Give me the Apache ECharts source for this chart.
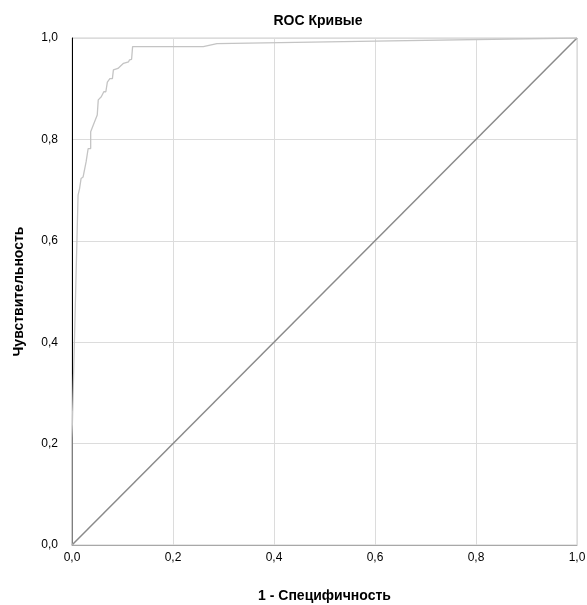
<!DOCTYPE html>
<html>
<head>
<meta charset="utf-8">
<script src="https://cdn.jsdelivr.net/npm/echarts@6/dist/echarts.min.js"></script>
<style>html,body{margin:0;padding:0;background:#fff}#c{width:587px;height:605px}</style>
</head>
<body>
<div id="c"></div>
<script>
const titleText = 'ROC Кривые';
const xName = '1 - Специфичность';
const yName = 'Чувствительность';
const tickValues = [0, 0.2, 0.4, 0.6, 0.8, 1.0];
const rocX = [0, 0, 0.012, 0.015, 0.018, 0.022, 0.028, 0.032, 0.037, 0.037, 0.042, 0.05, 0.052, 0.058, 0.063, 0.067, 0.07, 0.075, 0.08, 0.082, 0.091, 0.102, 0.112, 0.114, 0.118, 0.12, 0.12, 0.26, 0.287, 0.6, 1.0];
const rocY = [0, 0.21, 0.69, 0.703, 0.723, 0.726, 0.756, 0.782, 0.782, 0.815, 0.828, 0.848, 0.878, 0.884, 0.894, 0.894, 0.913, 0.92, 0.92, 0.937, 0.94, 0.95, 0.953, 0.957, 0.958, 0.958, 0.983, 0.983, 0.989, 0.994, 1.0];
const refX = [0, 1];
const refY = [0, 1];

const fmt = v => v.toFixed(1).replace('.', ',');
const chart = echarts.init(document.getElementById('c'), null, {renderer: 'canvas'});
const font = 'Liberation Sans, Arial, sans-serif';
chart.setOption({
  animation: false,
  backgroundColor: '#fff',
  title: {
    text: titleText, left: 313, top: 9, textAlign: 'center',
    textStyle: {fontFamily: font, fontSize: 14, fontWeight: 'bold', color: '#000'}
  },
  grid: {left: 72, right: 10, top: 38, bottom: 60, show: true, borderColor: '#cfcfcf', borderWidth: 1,
         containLabel: false, outerBoundsMode: 'none'},
  xAxis: {
    type: 'value', min: 0, max: 1, interval: 0.2,
    name: xName, nameLocation: 'middle', nameGap: 44,
    nameTextStyle: {fontFamily: font, fontSize: 14, fontWeight: 'bold', color: '#000'},
    axisLine: {show: true, lineStyle: {color: '#a8a8a8', width: 1}},
    axisTick: {show: false},
    axisLabel: {formatter: fmt, fontFamily: font, fontSize: 12, color: '#000', margin: 7},
    splitLine: {show: true, lineStyle: {color: '#dcdcdc', width: 1}}
  },
  yAxis: {
    type: 'value', min: 0, max: 1, interval: 0.2,
    name: yName, nameLocation: 'middle', nameGap: 46,
    nameTextStyle: {fontFamily: font, fontSize: 14, fontWeight: 'bold', color: '#000'},
    axisLine: {show: true, lineStyle: {color: '#000', width: 1}},
    axisTick: {show: false},
    axisLabel: {formatter: fmt, fontFamily: font, fontSize: 12, color: '#000', margin: 14},
    splitLine: {show: true, lineStyle: {color: '#dcdcdc', width: 1}}
  },
  series: [
    {
      type: 'line', data: refX.map((x, i) => [x, refY[i]]), symbol: 'none',
      lineStyle: {color: '#8a8a8a', width: 1.5}, z: 3
    },
    {
      type: 'line', data: rocX.map((x, i) => [x, rocY[i]]), symbol: 'none',
      lineStyle: {color: '#c4c4c4', width: 1.3}, z: 4
    }
  ]
});
</script>
</body>
</html>
